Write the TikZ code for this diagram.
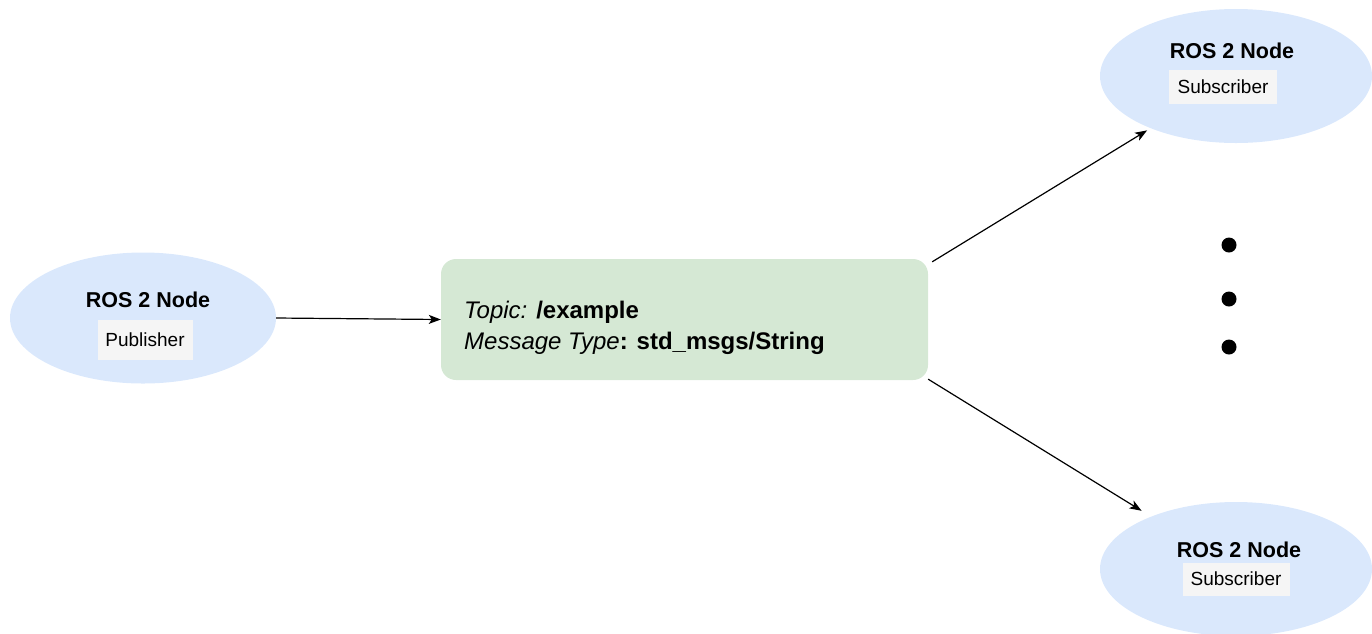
\documentclass[tikz,border=0pt]{standalone}
\usepackage{fontspec}
\setmainfont{Liberation Sans}
\usetikzlibrary{shapes.geometric,arrows.meta}
\definecolor{nodeblue}{HTML}{DAE8FC}
\definecolor{topicgreen}{HTML}{D5E8D4}
\definecolor{labelgray}{HTML}{F5F5F5}
\tikzset{
  rosnode/.style={ellipse,fill=nodeblue,draw=none,inner sep=0pt},
  rostitle/.style={font=\fontsize{21.5}{25}\selectfont\bfseries,inner sep=0pt},
  roslabel/.style={fill=labelgray,font=\fontsize{19}{22}\selectfont,inner sep=0pt},
  topicbox/.style={rectangle,rounded corners=15pt,fill=topicgreen,draw=none,inner sep=0pt},
  conn/.style={line width=1.2pt,-{Stealth[length=12pt,width=9pt,inset=3pt]}},
  dotmark/.style={circle,fill=black,inner sep=0pt,minimum size=15pt}
}
\begin{document}
\begin{tikzpicture}[x=1pt,y=-1pt]
\useasboundingbox (0,0) rectangle (1372,633);
\clip (0,0) rectangle (1372,633);
% nodes
\node[rosnode,minimum width=266pt,minimum height=131pt] (pub) at (143,318) {};
\node[rostitle] (pubt) at (148,300) {ROS 2 Node};
\node[roslabel,minimum width=95pt,minimum height=40pt] (publ) at (145,340) {Publisher};

\node[topicbox,minimum width=487pt,minimum height=121pt] (topic) at (684.5,319.5) {};
\node[anchor=base west,inner sep=0pt,font=\fontsize{24}{30}\selectfont] (topict) at (464,318) {\textit{Topic:} \textbf{/example}};
\node[anchor=base west,inner sep=0pt,font=\fontsize{24}{30}\selectfont] (topicm) at (464,349) {\textit{Message Type}\textbf{: std\_msgs/String}};

\node[rosnode,minimum width=272pt,minimum height=134pt] (sub1) at (1236,76) {};
\node[rostitle] (sub1t) at (1232,51) {ROS 2 Node};
\node[roslabel,minimum width=108pt,minimum height=34pt] (sub1l) at (1223,87) {Subscriber};

\node[rosnode,minimum width=272pt,minimum height=134pt] (sub2) at (1236,569) {};
\node[rostitle] (sub2t) at (1239,550) {ROS 2 Node};
\node[roslabel,minimum width=107pt,minimum height=33pt] (sub2l) at (1236,579) {Subscriber};

\node[dotmark] (d1) at (1229,245) {};
\node[dotmark] (d2) at (1229,299) {};
\node[dotmark] (d3) at (1229,347) {};

% connectors
\coordinate (tstart) at ([xshift=4pt,yshift=-3pt]topic.north east);
\coordinate (bstart) at ([yshift=1pt]topic.south east);
\draw[conn] (pub.east) -- (topic.west);
\draw[conn,shorten >=4pt] (tstart) -- (sub1);
\draw[conn,shorten >=11pt] (bstart) -- (sub2);
\end{tikzpicture}
\end{document}
